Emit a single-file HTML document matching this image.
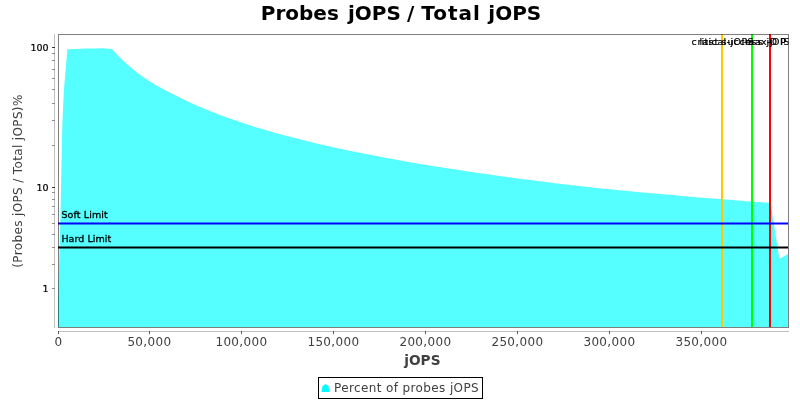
<!DOCTYPE html>
<html><head><meta charset="utf-8"><title>Probes jOPS / Total jOPS</title>
<style>
html,body{margin:0;padding:0;background:#fff;}
svg{display:block;will-change:transform;}
text{font-family:"DejaVu Sans","Liberation Sans",sans-serif;}
.title{font-size:20px;font-weight:bold;fill:#000;}
.xt{font-size:12px;fill:#404040;letter-spacing:0.33px;}
.yt{font-size:9.5px;fill:#000;stroke:#000;stroke-width:0.2px;}
.al{font-size:13.7px;font-weight:bold;fill:#404040;}
.yl{font-size:12px;fill:#404040;letter-spacing:0.36px;}
.mk{font-size:9.5px;fill:#000;stroke:#000;stroke-width:0.3px;}
.mk2{stroke-width:0.2px;}
.lg{font-size:12px;fill:#404040;letter-spacing:0.38px;}
</style></head><body>
<svg width="800" height="400" viewBox="0 0 800 400">
<rect x="0" y="0" width="800" height="400" fill="#ffffff"/>
<text y="20" class="title"><tspan x="260.75">Probes</tspan> <tspan x="347.9">jOPS</tspan> <tspan x="406.9">/</tspan> <tspan x="421.2" letter-spacing="1">Total</tspan> <tspan x="488.3">jOPS</tspan></text>
<!-- plot area -->
<polygon points="58.00,327.00 58.00,300.00 59.30,255.00 60.60,210.00 62.30,125.00 63.90,90.00 67.40,49.20 76.30,48.90 85.20,48.60 94.10,48.40 103.00,48.20 111.90,49.00 120.80,58.41 129.70,66.51 138.60,73.67 147.50,80.06 156.40,85.42 165.30,90.28 174.20,94.72 183.10,99.22 192.00,103.41 200.90,107.32 209.80,111.01 218.70,114.48 227.60,117.76 236.50,120.87 245.40,123.83 254.30,126.66 263.20,129.36 272.10,131.94 281.00,134.42 289.90,136.80 298.80,139.09 307.70,141.30 316.60,143.43 325.50,145.49 334.40,147.48 343.30,149.41 352.20,151.28 361.10,153.09 370.00,154.85 378.90,156.56 387.80,158.22 396.70,159.84 405.60,161.42 414.50,162.96 423.40,164.46 432.30,165.92 441.20,167.35 450.10,168.74 459.00,170.11 467.90,171.44 476.80,172.75 485.70,174.03 494.60,175.28 503.50,176.50 512.40,177.71 521.30,178.89 530.20,180.04 539.10,181.18 548.00,182.29 556.90,183.39 565.80,184.46 574.70,185.52 583.60,186.55 592.50,187.54 601.40,188.44 610.30,189.32 619.20,190.19 628.10,191.05 637.00,191.89 645.90,192.72 654.80,193.53 663.70,194.33 672.60,195.11 681.50,195.89 690.40,196.65 699.30,197.40 708.20,198.14 717.10,198.86 726.00,199.58 734.90,200.28 743.80,200.98 752.70,201.66 761.60,202.34 770.50,203.00 779.40,259.00 788.00,254.00 788.00,327.00" fill="#55ffff"/>
<!-- markers -->
<rect x="721" y="34" width="2" height="293" fill="#ffc800"/>
<rect x="751" y="34" width="2" height="293" fill="#00ff00"/>
<rect x="769" y="34" width="2" height="293" fill="#ff0000"/>
<line x1="58" y1="223.5" x2="788" y2="223.5" stroke="#0000ff" stroke-width="2"/>
<line x1="58" y1="247.5" x2="788" y2="247.5" stroke="#000000" stroke-width="2"/>
<text x="61.4" y="218" class="mk" letter-spacing="0.12">Soft Limit</text>
<text x="61.4" y="242" class="mk" letter-spacing="0.05">Hard Limit</text>
<clipPath id="pc"><rect x="58" y="34" width="730.5" height="294"/></clipPath>
<g clip-path="url(#pc)">
<text x="691.6 697.6 701.6 704.6 708.6 711.6 717.6 723.6 726.6 730.6 733.6 741.6 747.6" y="45" class="mk mk2">critical-jOPS</text>
<text x="699.6 702.6 708.6 714.6 718.6 721.6 727.6 733.6 739.6 745.6 751.6 757.6 763.6 766.6 769.6 780.3 783.6" y="45" class="mk mk2">last success jOPS</text>
<text x="745.1 755.1 761.1 767.1 770.1 772.1 780.1 788.8" y="45" class="mk mk2">max-jOPS</text>
</g>
<!-- outline -->
<rect x="58.5" y="34.5" width="730" height="293" fill="none" stroke="#000000" stroke-opacity="0.5" stroke-width="1"/>
<!-- axes -->
<rect x="54" y="34" width="1" height="294" fill="#c0c0c0"/>
<rect x="58" y="331" width="731" height="1" fill="#c0c0c0"/>
<rect x="52" y="264" width="3" height="1" fill="#8c8c8c"/><rect x="52" y="247" width="3" height="1" fill="#8c8c8c"/><rect x="52" y="234" width="3" height="1" fill="#8c8c8c"/><rect x="52" y="223" width="3" height="1" fill="#8c8c8c"/><rect x="52" y="214" width="3" height="1" fill="#8c8c8c"/><rect x="52" y="206" width="3" height="1" fill="#8c8c8c"/><rect x="52" y="199" width="3" height="1" fill="#8c8c8c"/><rect x="52" y="192" width="3" height="1" fill="#8c8c8c"/><rect x="52" y="145" width="3" height="1" fill="#8c8c8c"/><rect x="52" y="120" width="3" height="1" fill="#8c8c8c"/><rect x="52" y="103" width="3" height="1" fill="#8c8c8c"/><rect x="52" y="89" width="3" height="1" fill="#8c8c8c"/><rect x="52" y="78" width="3" height="1" fill="#8c8c8c"/><rect x="52" y="69" width="3" height="1" fill="#8c8c8c"/><rect x="52" y="60" width="3" height="1" fill="#8c8c8c"/><rect x="52" y="53" width="3" height="1" fill="#8c8c8c"/><rect x="52" y="288" width="3" height="1" fill="#8c8c8c"/><rect x="52" y="187" width="3" height="1" fill="#333333"/><rect x="52" y="47" width="3" height="1" fill="#333333"/>
<rect x="58" y="331" width="1" height="3" fill="#5a5a5a"/><rect x="149" y="331" width="1" height="3" fill="#5a5a5a"/><rect x="241" y="331" width="1" height="3" fill="#5a5a5a"/><rect x="333" y="331" width="1" height="3" fill="#5a5a5a"/><rect x="425" y="331" width="1" height="3" fill="#5a5a5a"/><rect x="517" y="331" width="1" height="3" fill="#5a5a5a"/><rect x="609" y="331" width="1" height="3" fill="#5a5a5a"/><rect x="701" y="331" width="1" height="3" fill="#5a5a5a"/>
<text x="58.40" y="346" text-anchor="middle" class="xt">0</text><text x="149.40" y="346" text-anchor="middle" class="xt">50,000</text><text x="241.40" y="346" text-anchor="middle" class="xt">100,000</text><text x="333.40" y="346" text-anchor="middle" class="xt">150,000</text><text x="425.40" y="346" text-anchor="middle" class="xt">200,000</text><text x="517.40" y="346" text-anchor="middle" class="xt">250,000</text><text x="609.40" y="346" text-anchor="middle" class="xt">300,000</text><text x="701.40" y="346" text-anchor="middle" class="xt">350,000</text>
<text x="48.6" y="51.00" text-anchor="end" class="yt">100</text><text x="48.6" y="191.00" text-anchor="end" class="yt">10</text><text x="48.6" y="292.00" text-anchor="end" class="yt">1</text>
<text x="404.3" y="365" class="al">jOPS</text>
<text transform="translate(22,181) rotate(-90)" text-anchor="middle" class="yl">(Probes jOPS / Total jOPS)%</text>
<!-- legend -->
<rect x="318.5" y="377.5" width="164" height="21" fill="#ffffff" stroke="#000000" stroke-width="1"/>
<polygon points="325.5,384 328.5,386 329.5,392 321.5,392 322.5,386" fill="#00ffff"/>
<text x="334" y="391.5" class="lg">Percent of probes jOPS</text>
</svg>
</body></html>
